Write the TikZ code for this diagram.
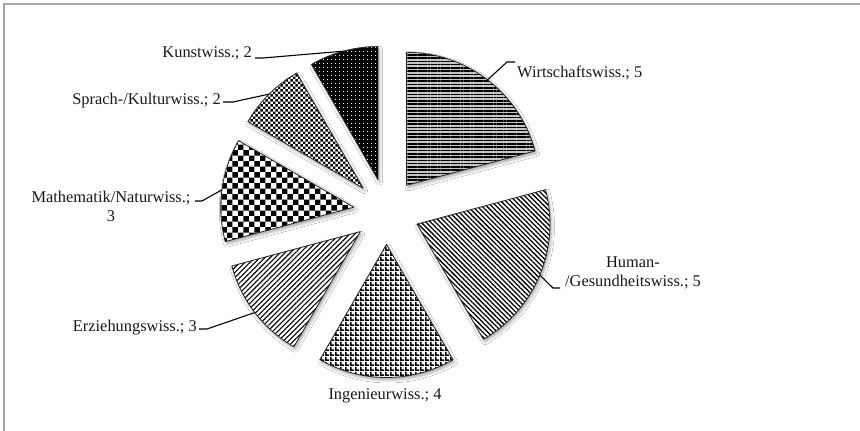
\documentclass[tikz,border=0pt]{standalone}
\usepackage{fontspec}
\setmainfont{Liberation Serif}
\usetikzlibrary{calc,patterns,patterns.meta,shadows.blur}
\tikzdeclarepattern{name=bigcheck, type=uncolored,
  bounding box={(0,0) and (11.4pt,11.4pt)}, tile size={(11.4pt,11.4pt)},
  code={\fill (0,0) rectangle (5.7pt,5.7pt); \fill (5.7pt,5.7pt) rectangle (11.4pt,11.4pt);}}
\tikzdeclarepattern{name=smallcheck, type=uncolored,
  bounding box={(0,0) and (5.4pt,5.4pt)}, tile size={(5.4pt,5.4pt)},
  code={\fill (0,0) rectangle (2.7pt,2.7pt); \fill (2.7pt,2.7pt) rectangle (5.4pt,5.4pt);}}
\tikzdeclarepattern{name=gridpat, type=uncolored,
  bounding box={(0,0) and (5pt,5pt)}, tile size={(5pt,5pt)},
  code={\fill (0,0) rectangle (5pt,1.8pt); \fill (0,0) rectangle (1.8pt,5pt);}}
\newcommand\pieslice[4]{%
  \pgfmathsetmacro\psa{-(#2)}%
  \pgfmathsetmacro\psb{-(#3)}%
  \pgfmathsetmacro\psm{-((#2)+(#3))/2}%
  \coordinate (#1) at ($(C)+(\psm:33)$);
  \path[sliceshadow] (#1) -- ++(\psa:133) arc[start angle=\psa, end angle=\psb, radius=133] -- cycle;
  \path[slice,#4] (#1) -- ++(\psa:133) arc[start angle=\psa, end angle=\psb, radius=133] -- cycle;
  \coordinate (#1-m) at ($(#1)+(\psm:133)$);
}
\tikzset{
  sliceshadow/.style={fill=white,
    blur shadow={shadow xshift=1.5pt, shadow yshift=-2.5pt, shadow blur radius=3pt, shadow opacity=35}},
  slice/.style={draw=black!85, line width=0.8pt, line join=round},
  lbl/.style={inner sep=0pt, font=\fontsize{16.4}{19}\selectfont, text=black!90},
  leader/.style={draw=black, line width=1.1pt}
}
\begin{document}
\begin{tikzpicture}[x=1pt,y=-1pt]
\useasboundingbox (0,0) rectangle (860,431);
\fill[white] (0,0) rectangle (860,431);
\draw[gray!70, line width=1.6pt] (4,440) -- (4,4) -- (870,4);
\coordinate (C) at (386.5,211.5);
\pieslice{w}{90}{15}{preaction={fill=gray!45}, pattern={Lines[angle=0, distance=3.3pt, line width=1.6pt]}, pattern color=black}
\pieslice{h}{15}{-60}{preaction={fill=white}, pattern={Lines[angle=-45, distance=3.4pt, line width=1.3pt]}, pattern color=black}
\pieslice{i}{-60}{-120}{preaction={fill=white}, pattern=gridpat, pattern color=black}
\pieslice{e}{-120}{-165}{preaction={fill=white}, pattern={Lines[angle=45, distance=3.6pt, line width=1.1pt]}, pattern color=black}
\pieslice{m}{-165}{-210}{preaction={fill=white}, pattern=bigcheck, pattern color=black}
\pieslice{s}{-210}{-240}{preaction={fill=white}, pattern=smallcheck, pattern color=black}
\pieslice{k}{-240}{-270}{preaction={fill=black}, pattern={Dots[distance=4pt, radius=0.75pt]}, pattern color=white}

\node[lbl, anchor=base west] (wl) at (517,77) {Wirtschaftswiss.; 5};
\coordinate (we1) at (507,62); \coordinate (we2) at (515,62);
\draw[leader] (w-m) -- (we1) -- (we2);

\node[lbl, anchor=north, align=center] (hl) at (633,257) {Human-\\/Gesundheitswiss.; 5};
\coordinate (he1) at (553,288); \coordinate (he2) at (560,288);
\draw[leader] (h-m) -- (he1) -- (he2);

\node[lbl, anchor=base] (il) at (385,399) {Ingenieurwiss.; 4};

\node[lbl, anchor=base east] (el) at (197,331) {Erziehungswiss.; 3};
\coordinate (ee1) at (207,329); \coordinate (ee2) at (199,329);
\draw[leader] (e-m) -- (ee1) -- (ee2);

\node[lbl, anchor=north, align=center] (ml) at (111,191) {Mathematik/Naturwiss.;\\3};
\coordinate (me1) at (202,201); \coordinate (me2) at (195,201);
\draw[leader] (m-m) -- (me1) -- (me2);

\node[lbl, anchor=base east] (sl) at (221,104) {Sprach-/Kulturwiss.; 2};
\coordinate (se1) at (233,102); \coordinate (se2) at (223,102);
\draw[leader] (s-m) -- (se1) -- (se2);

\node[lbl, anchor=base east] (kl) at (252,57) {Kunstwiss.; 2};
\coordinate (ke1) at (263,58); \coordinate (ke2) at (255,58);
\draw[leader] (k-m) -- (ke1) -- (ke2);
\end{tikzpicture}
\end{document}
